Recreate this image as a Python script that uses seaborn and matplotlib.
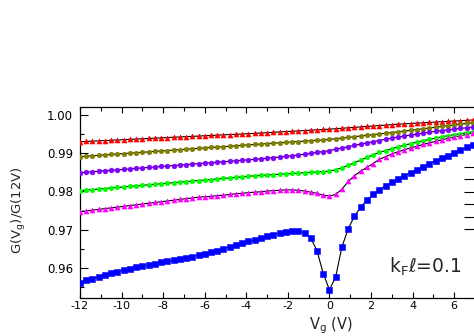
import numpy as np
import pandas as pd
import matplotlib
matplotlib.use("Agg")
import matplotlib.pyplot as plt
from matplotlib.ticker import MultipleLocator, FormatStrFormatter
import seaborn as sns

# ---------------- data ----------------
vg = [-12.0, -11.7, -11.4, -11.1, -10.8, -10.5, -10.2, -9.9, -9.6, -9.3,
      -9.0, -8.7, -8.4, -8.1, -7.8, -7.5, -7.2, -6.9, -6.6, -6.3,
      -6.0, -5.7, -5.4, -5.1, -4.8, -4.5, -4.2, -3.9, -3.6, -3.3,
      -3.0, -2.7, -2.4, -2.1, -1.8, -1.5, -1.2, -0.9, -0.6, -0.3,
      0.0, 0.3, 0.6, 0.9, 1.2, 1.5, 1.8, 2.1, 2.4, 2.7,
      3.0, 3.3, 3.6, 3.9, 4.2, 4.5, 4.8, 5.1, 5.4, 5.7,
      6.0, 6.3, 6.6, 6.9]

g_red = [0.99300, 0.99308, 0.99316, 0.99324, 0.99331, 0.99339, 0.99347, 0.99355, 0.99363, 0.99371,
         0.99379, 0.99386, 0.99394, 0.99402, 0.99410, 0.99418, 0.99426, 0.99434, 0.99441, 0.99449,
         0.99457, 0.99465, 0.99473, 0.99481, 0.99489, 0.99496, 0.99504, 0.99512, 0.99520, 0.99529,
         0.99538, 0.99548, 0.99557, 0.99566, 0.99575, 0.99584, 0.99593, 0.99603, 0.99612, 0.99621,
         0.99630, 0.99642, 0.99654, 0.99665, 0.99677, 0.99689, 0.99701, 0.99713, 0.99725, 0.99736,
         0.99748, 0.99760, 0.99769, 0.99778, 0.99788, 0.99797, 0.99806, 0.99815, 0.99824, 0.99833,
         0.99843, 0.99852, 0.99861, 0.99870]

g_olive = [0.98910, 0.98921, 0.98933, 0.98944, 0.98956, 0.98967, 0.98979, 0.98990, 0.99001, 0.99013,
           0.99024, 0.99036, 0.99047, 0.99059, 0.99070, 0.99081, 0.99093, 0.99104, 0.99116, 0.99127,
           0.99139, 0.99150, 0.99161, 0.99173, 0.99184, 0.99196, 0.99207, 0.99219, 0.99230, 0.99241,
           0.99252, 0.99263, 0.99273, 0.99284, 0.99295, 0.99306, 0.99317, 0.99328, 0.99338, 0.99349,
           0.99360, 0.99378, 0.99396, 0.99415, 0.99433, 0.99451, 0.99469, 0.99487, 0.99505, 0.99524,
           0.99542, 0.99560, 0.99580, 0.99600, 0.99620, 0.99640, 0.99660, 0.99680, 0.99700, 0.99720,
           0.99740, 0.99760, 0.99780, 0.99800]

g_purple = [0.98490, 0.98503, 0.98515, 0.98528, 0.98540, 0.98553, 0.98565, 0.98578, 0.98590, 0.98603,
            0.98615, 0.98628, 0.98640, 0.98653, 0.98665, 0.98678, 0.98690, 0.98703, 0.98715, 0.98728,
            0.98740, 0.98753, 0.98765, 0.98778, 0.98790, 0.98803, 0.98815, 0.98828, 0.98840, 0.98854,
            0.98869, 0.98884, 0.98900, 0.98917, 0.98935, 0.98954, 0.98975, 0.98997, 0.99020, 0.99044,
            0.99070, 0.99104, 0.99138, 0.99172, 0.99205, 0.99238, 0.99270, 0.99302, 0.99333, 0.99364,
            0.99395, 0.99425, 0.99452, 0.99478, 0.99503, 0.99527, 0.99550, 0.99572, 0.99593, 0.99613,
            0.99632, 0.99650, 0.99667, 0.99684]

g_green = [0.98020, 0.98034, 0.98048, 0.98062, 0.98076, 0.98090, 0.98104, 0.98118, 0.98131, 0.98145,
           0.98159, 0.98173, 0.98187, 0.98201, 0.98215, 0.98229, 0.98243, 0.98256, 0.98270, 0.98284,
           0.98298, 0.98312, 0.98326, 0.98340, 0.98354, 0.98368, 0.98381, 0.98395, 0.98410, 0.98420,
           0.98430, 0.98440, 0.98450, 0.98460, 0.98470, 0.98480, 0.98490, 0.98500, 0.98510, 0.98520,
           0.98530, 0.98570, 0.98620, 0.98680, 0.98750, 0.98820, 0.98890, 0.98960, 0.99020, 0.99070,
           0.99120, 0.99170, 0.99210, 0.99250, 0.99290, 0.99325, 0.99360, 0.99395, 0.99430, 0.99460,
           0.99485, 0.99510, 0.99535, 0.99560]

g_magenta = [0.9747, 0.9749, 0.9751, 0.9753, 0.9755, 0.9757, 0.9759, 0.9761, 0.9763, 0.9765,
             0.9767, 0.9769, 0.9771, 0.9773, 0.9775, 0.9777, 0.9779, 0.9781, 0.9783, 0.9785,
             0.9786, 0.9787, 0.9789, 0.9790, 0.9792, 0.9794, 0.9795, 0.9797, 0.9798, 0.9799,
             0.9801, 0.9802, 0.9803, 0.9804, 0.9804, 0.9803, 0.9801, 0.9798, 0.9795, 0.9790,
             0.9788, 0.9792, 0.9806, 0.9826, 0.9841, 0.9853, 0.9863, 0.9873, 0.9884, 0.9891,
             0.9898, 0.9904, 0.9909, 0.9914, 0.9918, 0.9923, 0.9927, 0.9931, 0.9935, 0.9939,
             0.9942, 0.9946, 0.9949, 0.9953]

g_blue = [0.9561, 0.9567, 0.9572, 0.9577, 0.9582, 0.9586, 0.9590, 0.9594, 0.9598, 0.9601,
          0.9605, 0.9608, 0.9611, 0.9614, 0.9617, 0.9620, 0.9623, 0.9626, 0.9629, 0.9633,
          0.9637, 0.9641, 0.9645, 0.9650, 0.9655, 0.9660, 0.9665, 0.9669, 0.9673, 0.9678,
          0.9683, 0.9687, 0.9691, 0.9694, 0.9696, 0.9696, 0.9692, 0.9678, 0.9645, 0.9585,
          0.9542, 0.9577, 0.9655, 0.9702, 0.9735, 0.9759, 0.9777, 0.9792, 0.9805, 0.9815,
          0.9824, 0.9832, 0.9841, 0.9849, 0.9857, 0.9865, 0.9873, 0.9880, 0.9887, 0.9894,
          0.9901, 0.9908, 0.9915, 0.9922]

series_names = ["red", "olive", "purple", "green", "magenta", "blue"]
series_values = [g_red, g_olive, g_purple, g_green, g_magenta, g_blue]
series_colors = ["#ff0000", "#808000", "#8000ff", "#00ff00", "#ff00ff", "#0000ff"]
series_markers = ["^", "o", "o", "o", "^", "s"]
series_sizes = [13, 11, 12, 11, 13, 15]

x_ticks = [-12, -10, -8, -6, -4, -2, 0, 2, 4, 6]
y_ticks = [0.96, 0.97, 0.98, 0.99, 1.00]
x_label = "V$_\\mathregular{g}$ (V)"
y_label = "G(V$_\\mathregular{g}$)/G(12V)"
note = "k$_\\mathregular{F}$\u2113=0.1"

# ---------------- figure ----------------
sns.set_theme(style="ticks")
plt.rcParams["font.family"] = ["DejaVu Sans"]
plt.rcParams["axes.unicode_minus"] = False

W, H = 474, 336
fig = plt.figure(figsize=(W / 100, H / 100), dpi=100)
fig.patch.set_facecolor("white")
ax = fig.add_axes([80 / W, 38 / H, 395 / W, 191 / H])
ax.set_facecolor("white")

frames = []
for name, vals in zip(series_names, series_values):
    frames.append(pd.DataFrame({"Vg": vg, "G": vals, "series": name}))
df = pd.concat(frames, ignore_index=True)

for name, col, mk, sz in zip(series_names, series_colors, series_markers, series_sizes):
    sub = df[df["series"] == name]
    sns.lineplot(data=sub, x="Vg", y="G", color="black", linewidth=0.8,
                 errorbar=None, ax=ax, zorder=2)
    sns.scatterplot(data=sub, x="Vg", y="G", color=col, marker=mk, s=sz,
                    edgecolor=col, linewidth=0.4, ax=ax, zorder=3)

ax.set_xlim(-12, 7)
ax.set_ylim(0.9521, 1.0021)
ax.set_xticks(x_ticks)
ax.set_yticks(y_ticks)
ax.xaxis.set_minor_locator(MultipleLocator(1))
ax.yaxis.set_minor_locator(MultipleLocator(0.005))
ax.yaxis.set_major_formatter(FormatStrFormatter("%.2f"))
ax.set_xlabel("")
ax.set_ylabel("")

for side in ["left", "bottom", "top"]:
    ax.spines[side].set_visible(True)
    ax.spines[side].set_color("black")
    ax.spines[side].set_linewidth(0.9)
ax.spines["right"].set_visible(False)

ax.tick_params(axis="both", which="both", direction="in", colors="black",
               labelsize=8.5, top=True, right=False, width=0.8)
ax.tick_params(axis="y", which="major", length=6, pad=5)
ax.tick_params(axis="y", which="minor", length=3)
ax.tick_params(axis="x", which="major", length=4, pad=2, labelsize=8)
ax.tick_params(axis="x", which="minor", length=3)

# tick marks of the neighbouring axis at the right edge
ax2 = ax.twinx()
ax2.set_ylim(0, 1)
ax2.set_yticks(list(np.linspace(0.361, 0.686, 6)))
ax2.set_yticklabels([])
ax2.set_ylabel("")
for s in ax2.spines.values():
    s.set_visible(False)
ax2.tick_params(axis="y", which="major", direction="in", length=8, width=0.8,
                right=True, left=False, colors="black")
ax2.grid(False)

fig.text(331 / W, 1 - 315 / H, x_label, ha="center", va="top", fontsize=10.5)
fig.text(19 / W, 1 - 210 / H, y_label, ha="center", va="center",
         rotation=90, fontsize=9.5)
fig.text(389 / W, 1 - 267 / H, note, ha="left", va="center", fontsize=13.5)

fig.savefig("out.png", dpi=100, facecolor="white")
